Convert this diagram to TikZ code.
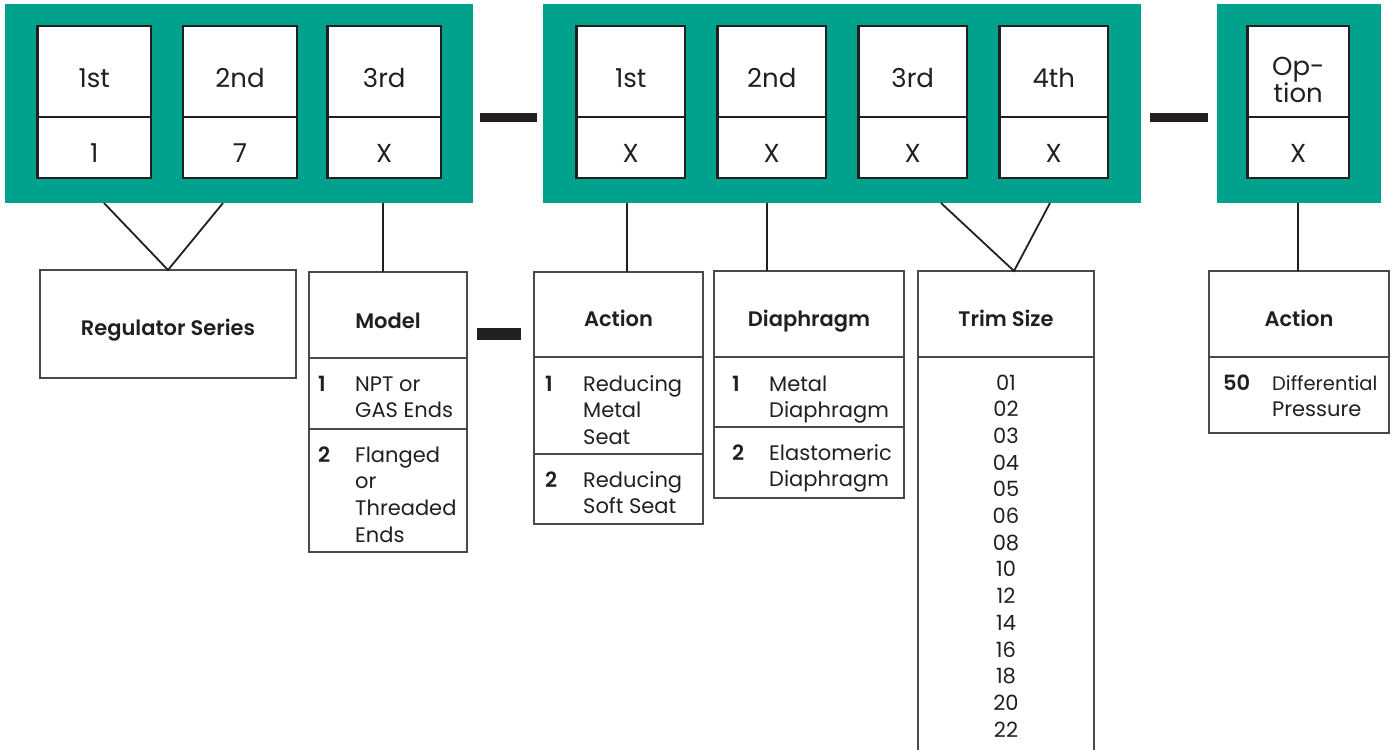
\documentclass[tikz,border=0pt]{standalone}
\usepackage{fontspec}
\setmainfont{Poppins}[BoldFont={Poppins SemiBold}]
\usetikzlibrary{calc}
\definecolor{tealbg}{HTML}{00A28E}
\definecolor{ink}{HTML}{231F20}
\definecolor{frame}{HTML}{4A4A4A}
\newcommand\digitcell[5]{%
  \node[cell, anchor=north west, minimum width=#3, minimum height=91] (#1t) at (#2,26) {};
  \node[cell, anchor=north west, minimum width=#3, minimum height=61] (#1b) at (#2,117) {};
  \node[celltxt] (#1tt) at ($(#1t.north)+(0,61)$) {#4};
  \node[celltxt] (#1bt) at ($(#1b.north)+(0,45)$) {#5};
}
\newcommand\txtlines[4]{%
  \foreach \t [count=\i from 0] in {#4} {\node[rowtxt] (#1\i) at ({#2},{#3+26.7*\i}) {\t};}%
}
\begin{document}
\begin{tikzpicture}[x=1pt,y=-1pt,
  panel/.style={fill=tealbg, draw=none, inner sep=0pt, outer sep=0pt},
  cell/.style={draw=ink, fill=white, line width=2.2pt, inner sep=0pt, outer sep=0pt},
  celltxt/.style={anchor=base, inner sep=0pt, text=ink, font=\fontsize{26}{27}\selectfont},
  dashbar/.style={fill=ink, draw=none, inner sep=0pt, outer sep=0pt},
  tab/.style={draw=frame, line width=1.4pt, fill=white, inner sep=0pt, outer sep=0pt},
  headtxt/.style={anchor=base, inner sep=0pt, text=ink, font=\fontsize{21}{26}\selectfont\bfseries},
  numtxt/.style={anchor=base west, inner sep=0pt, text=ink, font=\fontsize{21}{26}\selectfont\bfseries},
  rowtxt/.style={anchor=base west, inner sep=0pt, text=ink, font=\fontsize{21}{26}\selectfont},
  trimtxt/.style={anchor=base, inner sep=0pt, text=ink, font=\fontsize{21}{26}\selectfont},
  conn/.style={draw=ink, line width=1.8pt}
]
\useasboundingbox (0,0) rectangle (1393,750);
% panels
\node[panel, anchor=north west, minimum width=468, minimum height=199] (P1) at (5,4) {};
\node[panel, anchor=north west, minimum width=598, minimum height=199] (P2) at (543,4) {};
\node[panel, anchor=north west, minimum width=164, minimum height=199] (P3) at (1217,4) {};
% cells
\digitcell{a}{37.5}{113.5}{1st}{1}
\digitcell{b}{183}{114}{2nd}{7}
\digitcell{c}{327.5}{113.5}{3rd}{X}
\digitcell{d}{576.5}{108.5}{1st}{X}
\digitcell{e}{717.5}{108.5}{2nd}{X}
\digitcell{f}{858.5}{108.5}{3rd}{X}
\digitcell{g}{999.5}{108.5}{4th}{X}
\node[cell, anchor=north west, minimum width=101.5, minimum height=91] (ht) at (1247.5,26) {};
\node[cell, anchor=north west, minimum width=101.5, minimum height=61] (hb) at (1247.5,117) {};
\node[celltxt] (htt1) at ($(ht.north)+(0,49)$) {Op-};
\node[celltxt] (htt2) at ($(ht.north)+(0,76)$) {tion};
\node[celltxt] (hbt) at ($(hb.north)+(0,45)$) {X};
% dashes
\node[dashbar, anchor=north west, minimum width=57, minimum height=8.5] (d1) at (480,113) {};
\node[dashbar, anchor=north west, minimum width=58, minimum height=8.5] (d2) at (1150,113) {};
\node[dashbar, anchor=north west, minimum width=44, minimum height=12] (d3) at (477,328) {};
% Regulator series
\node[tab, anchor=north west, minimum width=256, minimum height=108] (RS) at (40,270) {};
\node[headtxt] (RSt) at ($(RS.north)+(0,65)$) {Regulator Series};
% Model
\node[tab, anchor=north west, minimum width=158, minimum height=86] (MH) at (309,272) {};
\node[tab, anchor=north west, minimum width=158, minimum height=71] (M1) at (309,358) {};
\node[tab, anchor=north west, minimum width=158, minimum height=123] (M2) at (309,429) {};
\node[headtxt] (MHt) at ($(MH.north)+(0,56)$) {Model};
\node[numtxt] (M1n) at (318,391) {1};
\txtlines{M1l}{355}{391}{NPT or,GAS Ends}
\node[numtxt] (M2n) at (318,462) {2};
\txtlines{M2l}{355}{462}{Flanged,or,Threaded,Ends}
% Action
\node[tab, anchor=north west, minimum width=169, minimum height=85] (AH) at (534,272) {};
\node[tab, anchor=north west, minimum width=169, minimum height=97] (A1) at (534,357) {};
\node[tab, anchor=north west, minimum width=169, minimum height=70] (A2) at (534,454) {};
\node[headtxt] (AHt) at ($(AH.north)+(0,54)$) {Action};
\node[numtxt] (A1n) at (545,391) {1};
\txtlines{A1l}{583}{391}{Reducing,Metal,Seat}
\node[numtxt] (A2n) at (545,487) {2};
\txtlines{A2l}{583}{487}{Reducing,Soft Seat}
% Diaphragm
\node[tab, anchor=north west, minimum width=190, minimum height=86] (DH) at (714,271) {};
\node[tab, anchor=north west, minimum width=190, minimum height=70] (D1) at (714,357) {};
\node[tab, anchor=north west, minimum width=190, minimum height=71] (D2) at (714,427) {};
\node[headtxt] (DHt) at ($(DH.north)+(0,55)$) {Diaphragm};
\node[numtxt] (D1n) at (732,391) {1};
\txtlines{D1l}{769}{391}{Metal,Diaphragm}
\node[numtxt] (D2n) at (732,460) {2};
\txtlines{D2l}{769}{460}{Elastomeric,Diaphragm}
% Trim size
\node[tab, anchor=north west, minimum width=176, minimum height=86] (TH) at (918,271) {};
\node[headtxt] (THt) at ($(TH.north)+(0,55)$) {Trim Size};
\draw[draw=frame, line width=1.4pt] (TH.south west) -- ++(0,400);
\draw[draw=frame, line width=1.4pt] (TH.south east) -- ++(0,400);
\foreach \t [count=\i from 0] in {01,02,03,04,05,06,08,10,12,14,16,18,20,22}
  {\node[trimtxt] (tr\i) at (1006,{390+26.7*\i}) {\t};}
% Option action
\node[tab, anchor=north west, minimum width=180, minimum height=86] (OH) at (1209,271) {};
\node[tab, anchor=north west, minimum width=180, minimum height=76] (O1) at (1209,357) {};
\node[headtxt] (OHt) at ($(OH.north)+(0,55)$) {Action};
\node[numtxt] (O1n) at (1223,390) {50};
\txtlines{O1l}{1272}{390}{{\fontsize{19.5}{26}\selectfont Differential},Pressure}
% connectors
\coordinate (k1a) at (104,203);
\coordinate (k1b) at (223,203);
\draw[conn] (k1a) -- (RS.north) -- (k1b);
\coordinate (k2) at (383,203);
\draw[conn] (k2) -- (k2 |- MH.north);
\coordinate (k3) at (627,203);
\draw[conn] (k3) -- (k3 |- AH.north);
\coordinate (k4) at (767,203);
\draw[conn] (k4) -- (k4 |- DH.north);
\coordinate (k5a) at (941,203);
\coordinate (k5b) at (1050,203);
\coordinate (k5c) at (1014,271);
\draw[conn] (k5a) -- (k5c) -- (k5b);
\coordinate (k6) at (1298,203);
\draw[conn] (k6) -- (k6 |- OH.north);
\end{tikzpicture}
\end{document}
